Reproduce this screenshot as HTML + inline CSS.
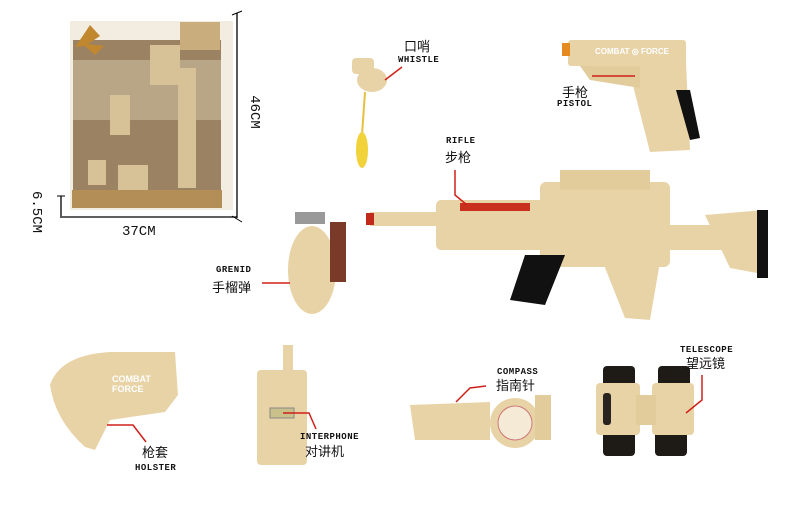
<!DOCTYPE html>
<html><head><meta charset="utf-8"><style>
body{margin:0;background:#fff;width:800px;height:525px;overflow:hidden;position:relative;font-family:"Liberation Sans","Noto Sans CJK SC",sans-serif}
.t{position:absolute;color:#111;white-space:nowrap;line-height:1}
.e{font-size:9px;font-weight:bold;letter-spacing:.5px;font-family:"Liberation Mono",monospace}
.c{font-size:13px}
</style></head><body>
<svg width="800" height="525" style="position:absolute;left:0;top:0">
<rect x="70" y="21" width="163" height="189" fill="#f3ece0"/>
<rect x="73" y="40" width="148" height="150" fill="#9a8263"/>
<rect x="73" y="60" width="148" height="60" fill="#b8a686"/>
<rect x="72" y="190" width="150" height="18" fill="#b48e57"/>
<rect x="180" y="22" width="40" height="28" fill="#c9ad7d"/>
<polygon points="90,25 100,36 88,44 104,46 95,55 85,46 75,47 82,37" fill="#c0872e"/>
<rect x="178" y="68" width="18" height="120" fill="#d7c197"/>
<rect x="150" y="45" width="30" height="40" fill="#d7c197"/>
<rect x="110" y="95" width="20" height="40" fill="#d7c197"/>
<rect x="88" y="160" width="18" height="25" fill="#d7c197"/>
<rect x="118" y="165" width="30" height="25" fill="#d7c197"/>
<line x1="237" y1="13" x2="237" y2="218" stroke="#000" stroke-width="1.3"/>
<line x1="232" y1="15" x2="242" y2="11" stroke="#000"/>
<line x1="232" y1="216" x2="242" y2="222" stroke="#000"/>
<line x1="62" y1="217" x2="237" y2="217" stroke="#000" stroke-width="1.3"/>
<line x1="61" y1="196" x2="61" y2="218" stroke="#000" stroke-width="1.3"/>
<line x1="57" y1="196" x2="65" y2="196" stroke="#000"/>
<ellipse cx="372" cy="80" rx="15" ry="12" fill="#e8d3a7"/>
<rect x="352" y="58" width="22" height="16" rx="4" fill="#e8d3a7"/>
<line x1="365" y1="92" x2="362" y2="135" stroke="#e8c040" stroke-width="2"/>
<ellipse cx="362" cy="150" rx="6" ry="18" fill="#f2d23a"/>
<rect x="568" y="40" width="118" height="26" rx="3" fill="#e8d3a7"/>
<rect x="562" y="43" width="8" height="13" fill="#e48a1e"/>
<polygon points="628,66 686,62 690,150 650,152" fill="#e8d3a7"/>
<polygon points="580,66 640,66 640,88 590,80" fill="#e3cc9c"/>
<polygon points="676,90 690,90 700,138 690,140" fill="#111"/>
<text x="595" y="54" font-size="8" fill="#fff" font-weight="bold" font-family="Liberation Sans">COMBAT ◎ FORCE</text>
<rect x="370" y="212" width="70" height="14" fill="#e8d3a7"/>
<rect x="366" y="213" width="8" height="12" fill="#c02a1a"/>
<rect x="436" y="200" width="130" height="50" rx="5" fill="#e8d3a7"/>
<rect x="460" y="203" width="70" height="8" fill="#c8301d"/>
<rect x="540" y="182" width="130" height="85" rx="6" fill="#e8d3a7"/>
<rect x="670" y="225" width="80" height="25" fill="#e8d3a7"/>
<polygon points="705,215 765,210 768,275 730,268" fill="#e8d3a7"/>
<polygon points="757,210 768,210 768,278 757,278" fill="#111"/>
<polygon points="525,255 565,255 545,305 510,300" fill="#111"/>
<polygon points="600,255 660,262 650,320 625,318" fill="#e8d3a7"/>
<rect x="560" y="170" width="90" height="20" fill="#e3cc9c"/>
<ellipse cx="312" cy="270" rx="24" ry="44" fill="#e8d3a7"/>
<rect x="295" y="212" width="30" height="12" fill="#999"/>
<rect x="330" y="222" width="16" height="60" fill="#7a3a2a"/>
<path d="M50,385 Q60,355 110,352 L175,352 L178,395 L165,412 L110,420 L95,450 L85,447 Q55,420 50,385Z" fill="#e8d3a7"/>
<text x="112" y="382" font-size="9" fill="#fff" font-weight="bold">COMBAT</text>
<text x="112" y="392" font-size="9" fill="#fff" font-weight="bold">FORCE</text>
<rect x="257" y="370" width="50" height="95" rx="4" fill="#e8d3a7"/>
<rect x="283" y="345" width="10" height="28" fill="#e8d3a7"/>
<rect x="270" y="408" width="24" height="10" fill="#c9c08a" stroke="#888" stroke-width="1"/>
<polygon points="410,405 490,402 490,440 415,440" fill="#e8d3a7"/>
<circle cx="515" cy="423" r="25" fill="#e8d3a7"/>
<circle cx="515" cy="423" r="17" fill="#f5ead6" stroke="#c77" stroke-width="1"/>
<rect x="535" y="395" width="16" height="45" fill="#e3cc9c"/>
<rect x="603" y="366" width="32" height="22" rx="4" fill="#1e1a16"/>
<rect x="658" y="366" width="32" height="22" rx="4" fill="#1e1a16"/>
<rect x="603" y="430" width="32" height="26" rx="4" fill="#1e1a16"/>
<rect x="655" y="430" width="32" height="26" rx="4" fill="#1e1a16"/>
<rect x="596" y="383" width="44" height="52" rx="4" fill="#e8d3a7"/>
<rect x="652" y="383" width="42" height="52" rx="4" fill="#e8d3a7"/>
<rect x="636" y="395" width="20" height="30" fill="#e3cc9c"/>
<rect x="603" y="393" width="8" height="32" rx="3" fill="#2a2420"/>
<g stroke="#d0201a" stroke-width="1.5" fill="none">
<polyline points="402,67 385,80"/>
<polyline points="592,76 635,76"/>
<polyline points="455,170 455,195 467,205"/>
<polyline points="262,283 290,283"/>
<polyline points="107,425 133,425 146,442"/>
<polyline points="283,413 309,413 316,429"/>
<polyline points="486,386 470,388 456,402"/>
<polyline points="702,375 702,400 686,413"/>
</g>
</svg>
<div class="t c" style="left:404px;top:40px">口哨</div>
<div class="t e" style="left:398px;top:56px">WHISTLE</div>
<div class="t c" style="left:562px;top:86px">手枪</div>
<div class="t e" style="left:557px;top:100px">PISTOL</div>
<div class="t e" style="left:446px;top:137px">RIFLE</div>
<div class="t c" style="left:445px;top:151px">步枪</div>
<div class="t e" style="left:216px;top:266px">GRENID</div>
<div class="t c" style="left:212px;top:281px">手榴弹</div>
<div class="t c" style="left:142px;top:446px">枪套</div>
<div class="t e" style="left:135px;top:464px">HOLSTER</div>
<div class="t e" style="left:300px;top:433px">INTERPHONE</div>
<div class="t c" style="left:305px;top:445px">对讲机</div>
<div class="t e" style="left:497px;top:368px">COMPASS</div>
<div class="t c" style="left:496px;top:379px">指南针</div>
<div class="t e" style="left:680px;top:346px">TELESCOPE</div>
<div class="t c" style="left:686px;top:357px">望远镜</div>
<div class="t" style="left:122px;top:225px;font-size:14px;font-family:'Liberation Mono',monospace">37CM</div>
<div class="t" style="left:237px;top:105px;font-size:14px;font-family:'Liberation Mono',monospace;transform:rotate(90deg)">46CM</div>
<div class="t" style="left:15px;top:205px;font-size:14px;font-family:'Liberation Mono',monospace;transform:rotate(90deg)">6.5CM</div>
</body></html>
